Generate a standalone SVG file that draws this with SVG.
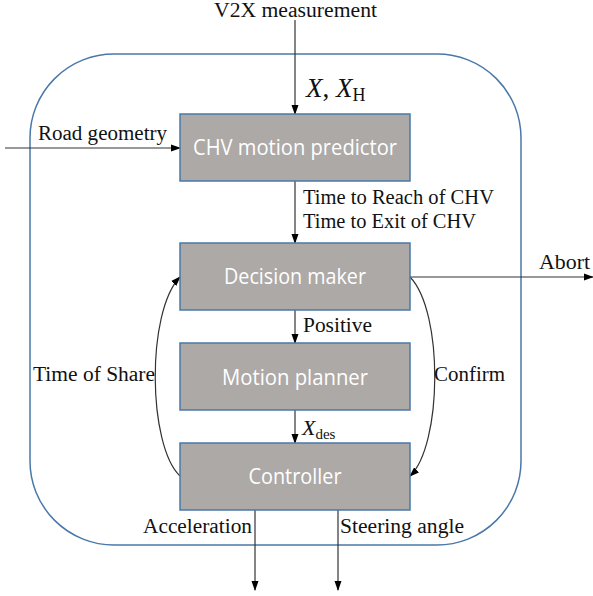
<svg xmlns="http://www.w3.org/2000/svg" width="593" height="596" viewBox="0 0 593 596">
<style>
.box{fill:#ADA9A7;stroke:#4A78A8;stroke-width:1.5}
.bt{font-family:"Open Sans","Liberation Sans",sans-serif;font-size:21px;fill:#ffffff;text-anchor:middle}
.lb{font-family:"Liberation Serif","DejaVu Serif",serif;font-size:20px;fill:#111}
.ln{fill:none;stroke:#333;stroke-width:1.2}
</style>
<defs>
<marker id="ah" markerWidth="10" markerHeight="8" refX="9" refY="4" orient="auto" markerUnits="userSpaceOnUse">
<path d="M0,0.5 L10,4 L0,7.5 Z" fill="#000"/>
</marker>
</defs>
<rect id="frame" x="30" y="54" width="491" height="491" rx="84" ry="84" fill="none" stroke="#4A78A8" stroke-width="1.5"/>
<g id="connectors">
<line class="ln" x1="295" y1="20" x2="295" y2="114" marker-end="url(#ah)"/>
<line class="ln" x1="5" y1="148" x2="180" y2="148" marker-end="url(#ah)"/>
<line class="ln" x1="295" y1="181" x2="295" y2="243" marker-end="url(#ah)"/>
<line class="ln" x1="410" y1="277" x2="593" y2="277" marker-end="url(#ah)"/>
<line class="ln" x1="295" y1="310" x2="295" y2="343" marker-end="url(#ah)"/>
<line class="ln" x1="295" y1="410" x2="295" y2="443" marker-end="url(#ah)"/>
<line class="ln" x1="255" y1="510" x2="255" y2="590" marker-end="url(#ah)"/>
<line class="ln" x1="338" y1="510" x2="338" y2="590" marker-end="url(#ah)"/>
<path class="ln" d="M180,476 C148,446 146,312 180,277" marker-end="url(#ah)"/>
<path class="ln" d="M410,277 C444,312 442,446 410,476" marker-end="url(#ah)"/>
</g>
<g id="chv">
<rect class="box" x="180" y="114" width="230" height="67"/>
<text class="bt" x="295" y="155" textLength="204" lengthAdjust="spacingAndGlyphs">CHV motion predictor</text>
</g>
<g id="decision">
<rect class="box" x="180" y="243" width="230" height="67"/>
<text class="bt" x="295" y="284" textLength="142" lengthAdjust="spacingAndGlyphs">Decision maker</text>
</g>
<g id="planner">
<rect class="box" x="180" y="343" width="230" height="67"/>
<text class="bt" x="295" y="385" textLength="146" lengthAdjust="spacingAndGlyphs">Motion planner</text>
</g>
<g id="controller">
<rect class="box" x="180" y="443" width="230" height="67"/>
<text class="bt" x="295" y="484" textLength="93" lengthAdjust="spacingAndGlyphs">Controller</text>
</g>
<g id="labels">
<text class="lb" x="214" y="17" textLength="163" lengthAdjust="spacingAndGlyphs">V2X measurement</text>
<text class="lb" x="306" y="97" style="font-size:27px"><tspan font-style="italic">X</tspan>, <tspan font-style="italic">X</tspan><tspan font-size="18px" dy="4">H</tspan></text>
<text class="lb" x="38" y="140" textLength="129" lengthAdjust="spacingAndGlyphs">Road geometry</text>
<text class="lb" x="303" y="204" textLength="191" lengthAdjust="spacingAndGlyphs">Time to Reach of CHV</text>
<text class="lb" x="303" y="228" textLength="173" lengthAdjust="spacingAndGlyphs">Time to Exit of CHV</text>
<text class="lb" x="539" y="269" textLength="51" lengthAdjust="spacingAndGlyphs">Abort</text>
<text class="lb" x="303" y="332" textLength="69" lengthAdjust="spacingAndGlyphs">Positive</text>
<text class="lb" x="33" y="381" textLength="122" lengthAdjust="spacingAndGlyphs">Time of Share</text>
<text class="lb" x="434" y="381" textLength="71" lengthAdjust="spacingAndGlyphs">Confirm</text>
<text class="lb" x="302" y="435" style="font-size:22px"><tspan font-style="italic">X</tspan><tspan font-size="15px" dy="4">des</tspan></text>
<text class="lb" x="143" y="533" textLength="109" lengthAdjust="spacingAndGlyphs">Acceleration</text>
<text class="lb" x="340" y="533" textLength="124" lengthAdjust="spacingAndGlyphs">Steering angle</text>
</g>
</svg>
